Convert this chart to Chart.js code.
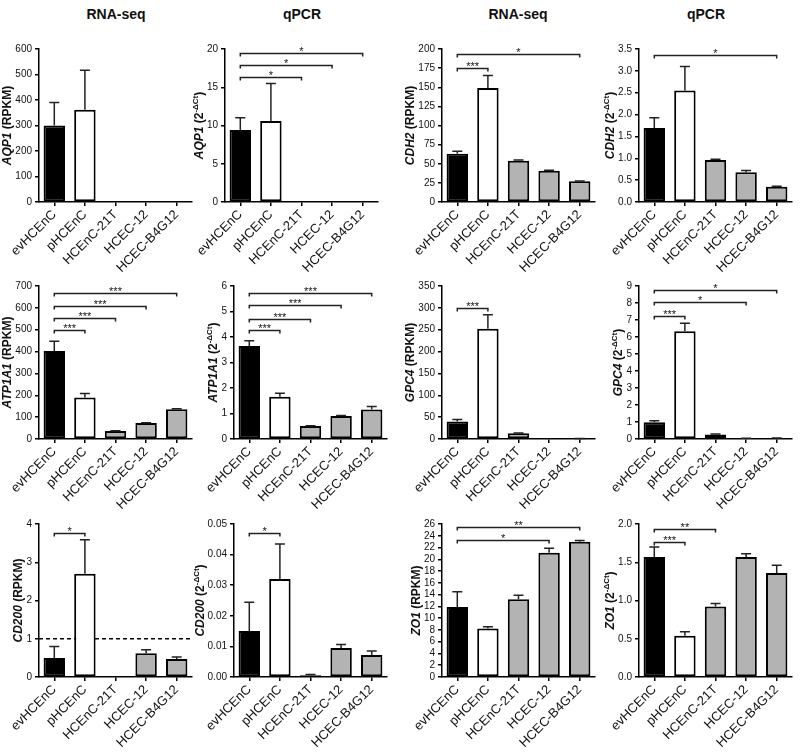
<!DOCTYPE html>
<html>
<head>
<meta charset="utf-8">
<script src="https://cdn.jsdelivr.net/npm/chart.js@4.4.0/dist/chart.umd.min.js"></script>
<style>
  body { margin: 0; background: #fff; width: 800px; height: 752px; position: relative; overflow: hidden;
         font-family: "Liberation Sans", Arial, sans-serif; }
  canvas { position: absolute; }
  .colTitle { position: absolute; top: 6px; width: 120px; margin-left: -60px; text-align: center;
              font-weight: bold; font-size: 14px; color: #111; }
</style>
</head>
<body>
<div class="colTitle" style="left:116px">RNA-seq</div>
<div class="colTitle" style="left:302px">qPCR</div>
<div class="colTitle" style="left:518px">RNA-seq</div>
<div class="colTitle" style="left:706px">qPCR</div>

<script>
// categories (cell types)
const cats = ["evHCEnC", "pHCEnC", "HCEnC-21T", "HCEC-12", "HCEC-B4G12"];

// AQP1
const aqp1Rna = [300, 362, 0, 0, 0];
const aqp1RnaSem = [90, 155, 0, 0, 0];
const aqp1Qpcr = [9.4, 10.6, 0.05, 0.07, 0.06];
const aqp1QpcrSem = [1.6, 4.9, 0, 0, 0];
const aqp1QpcrSig = [[0, 2, 16.3, "*"], [0, 3, 17.9, "*"], [0, 4, 19.5, "*"]];

// CDH2
const cdh2Rna = [63, 149, 54, 41, 27];
const cdh2RnaSem = [3.5, 16.5, 1, 0.5, 0.3];
const cdh2RnaSig = [[0, 1, 175, "***"], [0, 4, 193, "*"]];
const cdh2Qpcr = [1.69, 2.55, 0.96, 0.68, 0.35];
const cdh2QpcrSem = [0.24, 0.55, 0.02, 0.04, 0.01];
const cdh2QpcrSig = [[0, 4, 3.37, "*"]];

// ATP1A1
const atp1a1Rna = [403, 190, 37, 73, 136];
const atp1a1RnaSem = [44, 18, 1, 1, 2];
const atp1a1RnaSig = [[0, 1, 498, "***"], [0, 2, 552, "***"], [0, 3, 610, "***"], [0, 4, 670, "***"]];
const atp1a1Qpcr = [3.65, 1.66, 0.51, 0.9, 1.16];
const atp1a1QpcrSem = [0.2, 0.13, 0.01, 0.02, 0.11];
const atp1a1QpcrSig = [[0, 1, 4.27, "***"], [0, 2, 4.72, "***"], [0, 3, 5.24, "***"], [0, 4, 5.74, "***"]];

// GPC4
const gpc4Rna = [40, 252, 13, 0.3, 1];
const gpc4RnaSem = [4.5, 32, 0.5, 0, 0.2];
const gpc4RnaSig = [[0, 1, 300, "***"]];
const gpc4Qpcr = [0.98, 6.34, 0.27, 0.04, 0.06];
const gpc4QpcrSem = [0.1, 0.47, 0.02, 0.005, 0.005];
const gpc4QpcrSig = [[0, 1, 7.24, "***"], [0, 3, 8.06, "*"], [0, 4, 8.75, "*"]];

// CD200
const cd200Rna = [0.5, 2.7, 0.01, 0.62, 0.47];
const cd200RnaSem = [0.3, 0.89, 0, 0.09, 0.05];
const cd200RnaSig = [[0, 1, 3.77, "*"]];
const cd200RnaCutoff = 1;
const cd200Qpcr = [0.015, 0.032, 0.0006, 0.0095, 0.0072];
const cd200QpcrSem = [0.0094, 0.0115, 0.0002, 0.0011, 0.0013];
const cd200QpcrSig = [[0, 1, 0.047, "*"]];

// ZO1
const zo1Rna = [11.9, 8.25, 13.2, 21.1, 23.0];
const zo1RnaSem = [2.6, 0.3, 0.7, 0.8, 0.2];
const zo1RnaSig = [[0, 3, 23.2, "*"], [0, 4, 25.5, "**"]];
const zo1Qpcr = [1.57, 0.54, 0.92, 1.57, 1.36];
const zo1QpcrSem = [0.13, 0.05, 0.04, 0.04, 0.1];
const zo1QpcrSig = [[0, 1, 1.77, "***"], [0, 2, 1.93, "**"]];

const FONT = '"Liberation Sans", Arial, sans-serif';
const barFill = ["#000000", "#ffffff", "#b3b3b3", "#b3b3b3", "#b3b3b3"];

// ---- panels (L = x of y-axis, T = y of top tick) ----
const panels = [
  { gene: "AQP1", kind: "rna", vals: aqp1Rna, sem: aqp1RnaSem, sig: [], max: 600, step: 100, dec: 0, L: 39, T: 49 },
  { gene: "AQP1", kind: "qpcr", vals: aqp1Qpcr, sem: aqp1QpcrSem, sig: aqp1QpcrSig, max: 20, step: 5, dec: 0, L: 225, T: 49 },
  { gene: "CDH2", kind: "rna", vals: cdh2Rna, sem: cdh2RnaSem, sig: cdh2RnaSig, max: 200, step: 25, dec: 0, L: 442, T: 49 },
  { gene: "CDH2", kind: "qpcr", vals: cdh2Qpcr, sem: cdh2QpcrSem, sig: cdh2QpcrSig, max: 3.5, step: 0.5, dec: 1, L: 639, T: 49 },

  { gene: "ATP1A1", kind: "rna", vals: atp1a1Rna, sem: atp1a1RnaSem, sig: atp1a1RnaSig, max: 700, step: 100, dec: 0, L: 39, T: 286 },
  { gene: "ATP1A1", kind: "qpcr", vals: atp1a1Qpcr, sem: atp1a1QpcrSem, sig: atp1a1QpcrSig, max: 6, step: 1, dec: 0, L: 234, T: 286 },
  { gene: "GPC4", kind: "rna", vals: gpc4Rna, sem: gpc4RnaSem, sig: gpc4RnaSig, max: 350, step: 50, dec: 0, L: 442, T: 286 },
  { gene: "GPC4", kind: "qpcr", vals: gpc4Qpcr, sem: gpc4QpcrSem, sig: gpc4QpcrSig, max: 9, step: 1, dec: 0, L: 639, T: 286 },

  { gene: "CD200", kind: "rna", vals: cd200Rna, sem: cd200RnaSem, sig: cd200RnaSig, max: 4, step: 1, dec: 0, L: 39, T: 524, cutoff: cd200RnaCutoff },
  { gene: "CD200", kind: "qpcr", vals: cd200Qpcr, sem: cd200QpcrSem, sig: cd200QpcrSig, max: 0.05, step: 0.01, dec: 2, L: 234, T: 524 },
  { gene: "ZO1", kind: "rna", vals: zo1Rna, sem: zo1RnaSem, sig: zo1RnaSig, max: 26, step: 2, dec: 0, L: 442, T: 524 },
  { gene: "ZO1", kind: "qpcr", vals: zo1Qpcr, sem: zo1QpcrSem, sig: zo1QpcrSig, max: 2, step: 0.5, dec: 1, L: 639, T: 524 }
];

const PLOT_W = 153, PLOT_H = 153, TOP_PAD = 30, X_H = 80, RIGHT_PAD = 10;

function drawYTitle(chart, p) {
  const { ctx, chartArea } = chart;
  const y = chart.scales.y;
  ctx.save();
  ctx.font = "10px " + FONT;
  let maxW = 0;
  y.ticks.forEach(t => { maxW = Math.max(maxW, ctx.measureText(String(t.label)).width); });
  const xb = chartArea.left - 4 - 3 - maxW - 4;
  const yc = (chartArea.top + chartArea.bottom) / 2;

  let parts;
  if (p.kind === "rna") {
    parts = [
      { t: p.gene, f: "italic bold 12px " + FONT, dy: 0 },
      { t: " (RPKM)", f: "bold 12px " + FONT, dy: 0 }
    ];
  } else {
    parts = [
      { t: p.gene, f: "italic bold 12px " + FONT, dy: 0 },
      { t: " (2", f: "bold 12px " + FONT, dy: 0 },
      { t: "-ΔCt", f: "bold 8px " + FONT, dy: -5 },
      { t: ")", f: "bold 12px " + FONT, dy: 0 }
    ];
  }
  let total = 0;
  parts.forEach(pt => { ctx.font = pt.f; pt.w = ctx.measureText(pt.t).width; total += pt.w; });
  ctx.translate(xb, yc);
  ctx.rotate(-Math.PI / 2);
  ctx.fillStyle = "#111";
  ctx.textBaseline = "alphabetic";
  ctx.textAlign = "left";
  let x = -total / 2;
  parts.forEach(pt => { ctx.font = pt.f; ctx.fillText(pt.t, x, pt.dy); x += pt.w; });
  ctx.restore();
}

function makePanel(p, idx) {
  const W = Math.min(p.L, 60);
  const cv = document.createElement("canvas");
  cv.width = W + PLOT_W + RIGHT_PAD;
  cv.height = TOP_PAD + PLOT_H + X_H;
  cv.style.left = (p.L - W) + "px";
  cv.style.top = (p.T - TOP_PAD) + "px";
  document.body.appendChild(cv);

  const extras = {
    id: "extras" + idx,
    beforeDatasetsDraw(chart) {
      if (p.cutoff === undefined) return;
      const { ctx, chartArea } = chart;
      const yy = chart.scales.y.getPixelForValue(p.cutoff);
      ctx.save();
      ctx.strokeStyle = "#000";
      ctx.lineWidth = 1.5;
      ctx.setLineDash([4, 3]);
      ctx.beginPath();
      ctx.moveTo(chartArea.left, yy);
      ctx.lineTo(chartArea.right, yy);
      ctx.stroke();
      ctx.restore();
    },
    afterDatasetsDraw(chart) {
      const { ctx } = chart;
      const xs = chart.scales.x, ys = chart.scales.y;
      const bars = chart.getDatasetMeta(0).data;
      ctx.save();
      // error bars (upper SEM)
      ctx.strokeStyle = "#222";
      ctx.lineWidth = 1.5;
      p.vals.forEach((v, i) => {
        if (!p.sem[i]) return;
        const x = bars[i].x;
        const y0 = ys.getPixelForValue(v);
        const y1 = ys.getPixelForValue(v + p.sem[i]);
        ctx.beginPath();
        ctx.moveTo(x, y0);
        ctx.lineTo(x, y1);
        ctx.moveTo(x - 5, y1);
        ctx.lineTo(x + 5, y1);
        ctx.stroke();
      });
      // significance brackets
      ctx.font = "11px " + FONT;
      ctx.fillStyle = "#111";
      ctx.textAlign = "center";
      ctx.textBaseline = "alphabetic";
      p.sig.forEach(s => {
        const xa = xs.getPixelForValue(s[0]);
        const xb = xs.getPixelForValue(s[1]);
        const yy = Math.round(ys.getPixelForValue(s[2])) + 0.5;
        ctx.beginPath();
        ctx.moveTo(xa, yy + 3);
        ctx.lineTo(xa, yy);
        ctx.lineTo(xb, yy);
        ctx.lineTo(xb, yy + 3);
        ctx.stroke();
        ctx.fillText(s[3], (xa + xb) / 2, yy + 1);
      });
      ctx.restore();
    },
    afterDraw(chart) {
      drawYTitle(chart, p);
    }
  };

  new Chart(cv, {
    type: "bar",
    data: {
      labels: cats,
      datasets: [{
        data: p.vals,
        backgroundColor: barFill,
        borderColor: "#000",
        borderWidth: 2,
        borderSkipped: false,
        barPercentage: 0.7,
        categoryPercentage: 1
      }]
    },
    options: {
      responsive: false,
      devicePixelRatio: 1,
      animation: false,
      layout: { padding: { top: TOP_PAD, right: RIGHT_PAD, left: 0, bottom: 0 } },
      plugins: { legend: { display: false }, tooltip: { enabled: false } },
      scales: {
        x: {
          offset: true,
          afterFit: s => { s.height = X_H; },
          grid: { display: true, offset: false, drawOnChartArea: false, drawTicks: true,
                  tickLength: 4, color: "#000", lineWidth: 1.5 },
          border: { display: true, color: "#000", width: 1.5 },
          ticks: { color: "#111", font: { family: FONT, size: 13 }, minRotation: 45, maxRotation: 45,
                   autoSkip: false, padding: 1 }
        },
        y: {
          min: 0,
          max: p.max,
          afterFit: s => { s.width = W; },
          grid: { display: true, drawOnChartArea: false, drawTicks: true, tickLength: 4,
                  color: "#000", lineWidth: 1.5 },
          border: { display: true, color: "#000", width: 1.5 },
          ticks: { stepSize: p.step, autoSkip: false, color: "#111", padding: 3,
                   font: { family: FONT, size: 10 },
                   callback: v => Number(v).toFixed(p.dec) }
        }
      }
    },
    plugins: [extras]
  });
}

panels.forEach(makePanel);
</script>
</body>
</html>
